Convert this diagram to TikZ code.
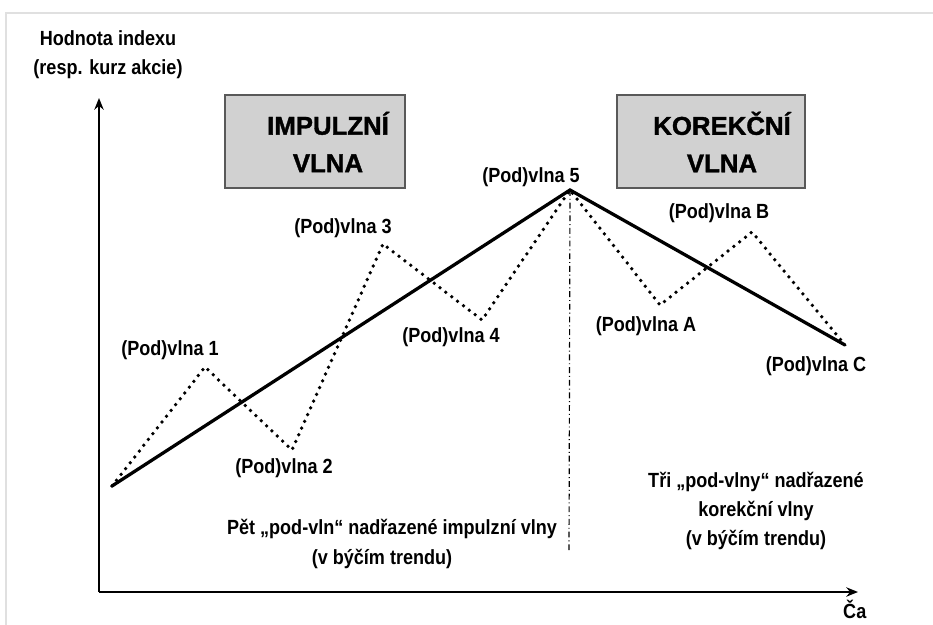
\documentclass[tikz,border=0pt]{standalone}
\usepackage{fontspec}
\setmainfont{Liberation Sans}
\newfontfamily\uzkyfont[FakeStretch=0.88]{Liberation Sans}
\newfontfamily\cernyfont[FakeBold=1.4]{Liberation Sans}
\usetikzlibrary{arrows.meta}
\begin{document}
\begin{tikzpicture}[x=0.03cm,y=-0.03cm]
\tikzset{popis/.style={font=\uzkyfont\bfseries\fontsize{17.5}{25}\selectfont, inner sep=0pt, align=center},
  ramec/.style={draw=black!65, fill=black!18, line width=0.9pt},
  nadpis/.style={align=center, inner sep=0pt, font=\cernyfont\bfseries\fontsize{22}{32}\selectfont},
  osa/.style={line width=1.8pt, -{Stealth[length=10pt,width=8pt]}},
  trend/.style={line width=2.8pt, line cap=round},
  vlnky/.style={line width=3.2pt, line cap=round, dash pattern=on 0pt off 6.3pt},
  hranice/.style={line width=1pt, dash pattern=on 5pt off 2.5pt on 0.8pt off 2.5pt}}
\useasboundingbox (0,0) rectangle (933,625);
\draw[black!12, line width=1pt] (6,625) -- (6,13) -- (933,13);
% osy
\coordinate (O) at (99,592);
\coordinate (Ytop) at (99,98);
\coordinate (Xend) at (858,592);
\draw[osa] (O) -- (Ytop);
\draw[osa] (O) -- (Xend);
\node[popis] (ylab) at (108,55) {Hodnota indexu\\(resp. kurz akcie)};
\node[popis, anchor=north west] (xlab) at (843,600) {Ča};
% ramecky
\node[ramec, minimum width=5.4cm, minimum height=2.79cm] (imp) at (315,141.5) {};
\node[ramec, minimum width=5.64cm, minimum height=2.79cm] (kor) at (711,141.5) {};
\node[nadpis] (impT) at (328,142) {IMPULZNÍ\\VLNA};
\node[nadpis] (korT) at (722,142) {KOREKČNÍ\\VLNA};
% body vln
\coordinate (w0) at (112,486);
\coordinate (w1) at (205,367);
\coordinate (w2) at (292,450);
\coordinate (w3) at (383,244);
\coordinate (w4) at (482,320);
\coordinate (w5) at (570,190);
\coordinate (wA) at (660,305);
\coordinate (wB) at (752,232);
\coordinate (wC) at (845,345);
\coordinate (dole) at (569,552);
\draw[hranice] (w5) -- (dole);
\draw[vlnky] (w0) -- (w1) -- (w2) -- (w3) -- (w4) -- (w5) -- (wA) -- (wB) -- (wC);
\draw[trend] (w0) -- (w5) -- (wC);
% popisky
\node[popis] (l1) at (170,350) {(Pod)vlna 1};
\node[popis] (l2) at (284,468) {(Pod)vlna 2};
\node[popis] (l3) at (343,228) {(Pod)vlna 3};
\node[popis] (l4) at (451,337) {(Pod)vlna 4};
\node[popis] (l5) at (531,177) {(Pod)vlna 5};
\node[popis] (lA) at (646,326) {(Pod)vlna A};
\node[popis] (lB) at (719,213) {(Pod)vlna B};
\node[popis] (lC) at (816,366) {(Pod)vlna C};
\node[popis] (pet1) at (392,529) {Pět „pod-vln“ nadřazené impulzní vlny};
\node[popis] (pet2) at (382,559) {(v býčím trendu)};
\node[popis] (tri) at (756,511) {Tři „pod-vlny“ nadřazené\\korekční vlny\\(v býčím trendu)};
\end{tikzpicture}
\end{document}
